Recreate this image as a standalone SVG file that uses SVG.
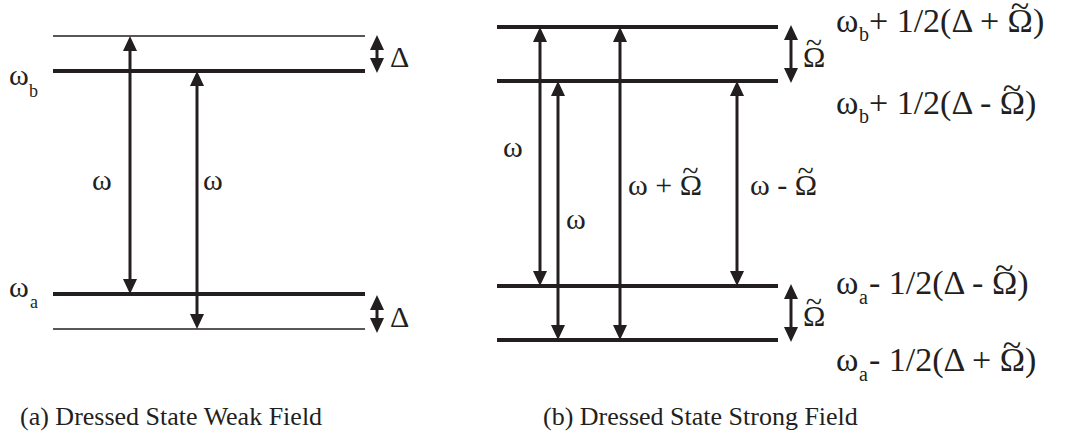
<svg xmlns="http://www.w3.org/2000/svg" width="1067" height="445" viewBox="0 0 1067 445">
<style>
text{font-family:"Liberation Serif","Times New Roman",serif;fill:#231f20;font-size:30px}
.sub{font-size:18px}
.big{font-size:34px}
.bsub{font-size:20px}
.cap{font-size:26px}
.thick{stroke:#231f20;stroke-width:4;fill:none}
.thin{stroke:#231f20;stroke-width:1.5;fill:none}
.arr{stroke:#231f20;stroke-width:3;fill:none;marker-start:url(#ah);marker-end:url(#ah)}
</style>
<defs>
<marker id="ah" markerUnits="userSpaceOnUse" markerWidth="15" markerHeight="14" refX="4" refY="7" orient="auto-start-reverse">
<path d="M0,0 L15,7 L0,14 z" fill="#231f20"/>
</marker>
</defs>
<rect width="1067" height="445" fill="#fff"/>
<g id="weak-levels">
<line class="thin" x1="53" y1="36" x2="365" y2="36"/>
<line class="thick" x1="53" y1="71" x2="365" y2="71"/>
<line class="thick" x1="53" y1="294" x2="365" y2="294"/>
<line class="thin" x1="53" y1="329" x2="365" y2="329"/>
</g>
<g id="strong-levels">
<line class="thick" x1="497" y1="27" x2="778" y2="27"/>
<line class="thick" x1="497" y1="81" x2="778" y2="81"/>
<line class="thick" x1="497" y1="286" x2="778" y2="286"/>
<line class="thick" x1="497" y1="340" x2="778" y2="340"/>
</g>
<g id="connectors">
<line class="arr" x1="130" y1="47" x2="130" y2="283"/>
<line class="arr" x1="197" y1="82" x2="197" y2="318"/>
<line class="arr" x1="377" y1="46" x2="377" y2="62"/>
<line class="arr" x1="377" y1="306" x2="377" y2="322"/>
<line class="arr" x1="540" y1="38" x2="540" y2="275"/>
<line class="arr" x1="558" y1="92" x2="558" y2="329"/>
<line class="arr" x1="620" y1="38" x2="620" y2="329"/>
<line class="arr" x1="737" y1="92" x2="737" y2="275"/>
<line class="arr" x1="791" y1="36" x2="791" y2="72"/>
<line class="arr" x1="791" y1="295" x2="791" y2="331"/>
</g>
<g id="weak-labels">
<text x="9" y="85">ω</text><text class="sub" x="29" y="97">b</text>
<text x="9" y="297">ω</text><text class="sub" x="30" y="308">a</text>
<text x="390" y="67" font-size="28">Δ</text>
<text x="390" y="327" font-size="28">Δ</text>
<text x="92" y="190">ω</text>
<text x="203" y="190">ω</text>
</g>
<g id="strong-labels">
<text x="503" y="157">ω</text>
<text x="566" y="229">ω</text>
<text x="628" y="195">ω + Ω<tspan dx="-19.6" dy="-14">~</tspan></text>
<text x="750" y="195">ω - Ω<tspan dx="-19.6" dy="-14">~</tspan></text>
<text x="803" y="67">Ω<tspan dx="-19.6" dy="-14">~</tspan></text>
<text x="803" y="326">Ω<tspan dx="-19.6" dy="-14">~</tspan></text>
<text class="big" x="836" y="32">ω</text><text class="bsub" x="859" y="41">b</text>
<text class="big" x="869" y="32">+ 1/2(Δ + Ω<tspan dx="-22.2" dy="-15">~</tspan><tspan dx="3.8" dy="15">)</tspan></text>
<text class="big" x="836" y="114">ω</text><text class="bsub" x="859" y="123">b</text>
<text class="big" x="869" y="114">+ 1/2(Δ - Ω<tspan dx="-22.2" dy="-15">~</tspan><tspan dx="3.8" dy="15">)</tspan></text>
<text class="big" x="836" y="294">ω</text><text class="bsub" x="859" y="304">a</text>
<text class="big" x="869" y="294">- 1/2(Δ - Ω<tspan dx="-22.2" dy="-15">~</tspan><tspan dx="3.8" dy="15">)</tspan></text>
<text class="big" x="836" y="371">ω</text><text class="bsub" x="859" y="381">a</text>
<text class="big" x="869" y="371">- 1/2(Δ + Ω<tspan dx="-22.2" dy="-15">~</tspan><tspan dx="3.8" dy="15">)</tspan></text>
</g>
<g id="captions">
<text class="cap" x="20" y="425">(a) Dressed State Weak Field</text>
<text class="cap" x="543" y="425">(b) Dressed State Strong Field</text>
</g>
</svg>
